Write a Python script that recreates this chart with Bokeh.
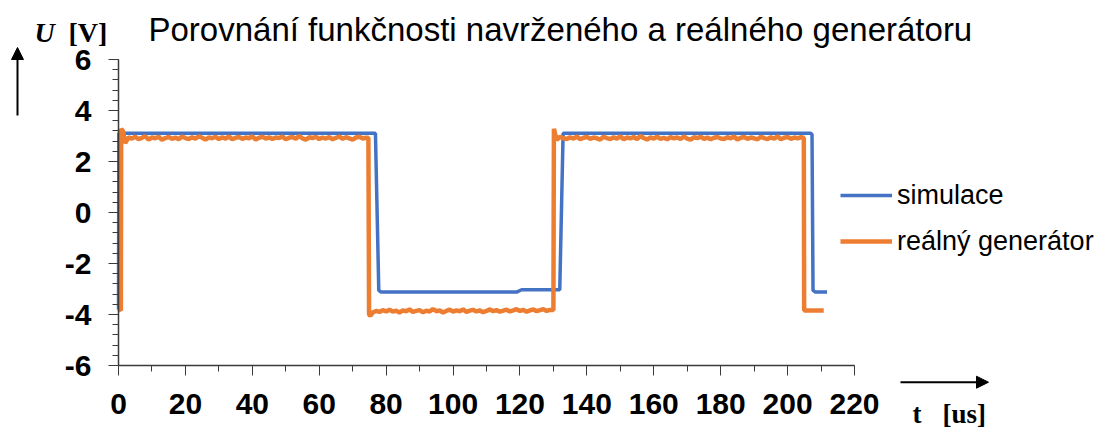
from bokeh.plotting import figure
from bokeh.models import (Range1d, SingleIntervalTicker, Label, Arrow, NormalHead,
                          Legend, LegendItem, LinearAxis)
from bokeh.embed import file_html
from bokeh.resources import INLINE

# ---------------- data ----------------
title_text = "Porovnání funkčnosti navrženého a reálného generátoru"
series_names = ["simulace", "reálný generátor"]
x_bounds = (0, 220)
y_bounds = (-6, 6)
x_ticks_interval = 20
y_ticks_interval = 2
y_tick_values = [-6, -4, -2, 0, 2, 4, 6]

# simulation (blue)
sim_t = [0.0, 0.1, 76.8, 77.8, 78.5, 119.0, 120.5, 131.9, 132.9, 206.9, 207.3, 207.6, 208.3, 211.8]
sim_u = [-3.8, 3.11, 3.11, -3.05, -3.12, -3.12, -3.03, -3.03, 3.11, 3.11, 3.06, -3.05, -3.12, -3.12]

# real generator (orange)
real_start_t = [0.0, 0.7, 0.8, 1.3, 2.0]
real_start_u = [-3.78, -3.84, 3.28, 3.20, 2.72]
real_hi1 = [2.95, 2.90, 2.97, 2.88, 2.93, 2.99, 2.86, 2.94, 2.91, 2.97,
            2.85, 2.92, 2.96, 2.89, 2.94, 2.87, 2.98, 2.92, 2.88, 2.95,
            2.90, 2.99, 2.93, 2.86, 2.94, 2.91, 2.97, 2.88, 2.95, 2.90,
            2.98, 2.87, 2.93, 2.96, 2.89, 2.94, 2.91, 2.99, 2.86, 2.93,
            2.97, 2.90, 2.95, 2.88, 2.94, 2.92, 2.98, 2.87, 2.93, 2.96,
            2.89, 3.00, 2.91, 2.86, 2.95, 2.92, 2.97, 2.88, 2.94, 2.90,
            2.96, 2.87, 2.93, 2.98, 2.89, 2.95, 2.91, 2.86, 2.94, 2.97,
            2.90, 2.93]          # t = 3 .. 74
real_fall1_t = [74.7, 74.9, 75.3]
real_fall1_u = [2.93, -4.00, -4.05]
real_lo = [-3.92, -3.86, -3.90, -3.83, -3.88, -3.81, -3.89, -3.85, -3.92, -3.84,
           -3.87, -3.80, -3.90, -3.86, -3.83, -3.91, -3.85, -3.88, -3.79, -3.87,
           -3.84, -3.92, -3.86, -3.81, -3.89, -3.84, -3.87, -3.80, -3.90, -3.85,
           -3.82, -3.88, -3.84, -3.91, -3.86, -3.80, -3.87, -3.83, -3.89, -3.85,
           -3.81, -3.88, -3.84, -3.79, -3.86, -3.82, -3.89, -3.84, -3.80, -3.87,
           -3.83, -3.79, -3.86, -3.82]   # t = 76 .. 129
real_rise_t = [130.0, 130.15, 130.5]
real_rise_u = [-3.82, 3.28, 3.10]
real_hi2 = [2.85, 2.97, 2.91, 2.88, 2.95, 2.90, 2.98, 2.87, 2.93, 2.96,
            2.89, 2.94, 2.91, 2.86, 2.97, 2.92, 2.88, 2.95, 2.90, 2.99,
            2.87, 2.94, 2.91, 2.96, 2.88, 3.00, 2.92, 2.86, 2.95, 2.90,
            2.97, 2.89, 2.93, 2.87, 2.96, 2.91, 2.94, 2.88, 2.98, 2.90,
            2.86, 2.95, 2.92, 2.97, 2.89, 2.94, 2.87, 2.93, 2.96, 2.90,
            2.88, 2.95, 2.91, 2.98, 2.86, 2.93, 2.96, 2.89, 2.94, 2.91,
            2.87, 2.97, 2.92, 2.88, 2.95, 2.90, 2.99, 2.87, 2.93, 2.96,
            2.89, 2.94, 2.91, 2.95]   # t = 131 .. 204
real_end_t = [204.85, 204.95, 210.8]
real_end_u = [2.92, -3.84, -3.84]

real_t = (real_start_t + [3 + i for i in range(len(real_hi1))] + real_fall1_t
          + [76 + i for i in range(len(real_lo))] + real_rise_t
          + [131 + i for i in range(len(real_hi2))] + real_end_t)
real_u = (real_start_u + real_hi1 + real_fall1_u + real_lo + real_rise_u
          + real_hi2 + real_end_u)

BLUE = "#4472C4"
ORANGE = "#ED7D31"
AX = "#3a3a3a"

W, H = 1099, 430
# plot area in pixels: x 0..220 -> 118..854, y 6..-6 -> 59..365
PX0, PX1, PY0, PY1 = 118, 854, 59, 365
sx = (PX1 - PX0) / (x_bounds[1] - x_bounds[0])
sy = (PY1 - PY0) / (y_bounds[1] - y_bounds[0])
xr = Range1d(x_bounds[0] - PX0 / sx, x_bounds[1] + (W - PX1) / sx)
yr = Range1d(y_bounds[0] - (H - PY1) / sy, y_bounds[1] + PY0 / sy)

p = figure(width=W, height=H, x_range=xr, y_range=yr,
           output_backend="svg", toolbar_location=None,
           x_axis_location=None, y_axis_location=None, min_border=0)
p.outline_line_color = None
p.grid.visible = False
p.background_fill_color = "white"
p.border_fill_color = "white"

r1 = p.line(sim_t, sim_u, line_color=BLUE, line_width=3.5)
r2 = p.line(real_t, real_u, line_color=ORANGE, line_width=4.5)

xaxis = LinearAxis(fixed_location=y_bounds[0], bounds=x_bounds,
                   ticker=SingleIntervalTicker(interval=x_ticks_interval, num_minor_ticks=2))
yaxis = LinearAxis(fixed_location=x_bounds[0], bounds=y_bounds,
                   ticker=SingleIntervalTicker(interval=y_ticks_interval, num_minor_ticks=5),
                   major_label_overrides={v: str(v) for v in y_tick_values})
for ax in (xaxis, yaxis):
    ax.axis_line_color = AX
    ax.axis_line_width = 1.5
    ax.major_tick_line_color = AX
    ax.minor_tick_line_color = AX
    ax.major_tick_in = 0
    ax.minor_tick_in = 0
    ax.major_tick_out = 10
    ax.minor_tick_out = 6
    ax.major_label_text_font = "Liberation Sans"
    ax.major_label_text_font_style = "bold"
    ax.major_label_text_font_size = "30px"
    ax.major_label_text_color = "black"
xaxis.major_label_standoff = 18
yaxis.major_label_standoff = 17
p.add_layout(xaxis, "below")
p.add_layout(yaxis, "left")

legend = Legend(items=[LegendItem(label=series_names[0], renderers=[r1]),
                       LegendItem(label=series_names[1], renderers=[r2])],
                location=(840, H - 264), glyph_width=52, glyph_height=46, label_height=46,
                spacing=0, padding=0, margin=0, border_line_color=None,
                background_fill_alpha=0, label_standoff=5,
                label_text_font="Liberation Sans", label_text_font_size="27px",
                label_text_color="black")
p.add_layout(legend)

def lab(x, y, text, font, style, size):
    p.add_layout(Label(x=x, y=H - y, x_units="screen", y_units="screen", text=text,
                       text_font=font, text_font_style=style, text_font_size=size,
                       text_baseline="alphabetic", text_color="black"))

lab(148, 28.5, title_text, "Liberation Sans", "normal", "33px")
lab(34, 32, "U", "Liberation Serif", "bold italic", "28px")
lab(68, 32, "[V]", "Liberation Serif", "bold", "28px")
lab(912, 413, "t", "Liberation Serif", "bold", "27px")
lab(942, 413, "[us]", "Liberation Serif", "bold", "27px")

for (x0, y0, x1, y1) in ((17, 115, 17, 47), (900, 381.7, 988, 381.7)):
    p.add_layout(Arrow(x_start=x0, y_start=H - y0, x_end=x1, y_end=H - y1,
                       start_units="screen", end_units="screen", line_width=2, line_color="black",
                       end=NormalHead(size=12, fill_color="black", line_color="black")))

open("out.html", "w").write(file_html(p, INLINE))
